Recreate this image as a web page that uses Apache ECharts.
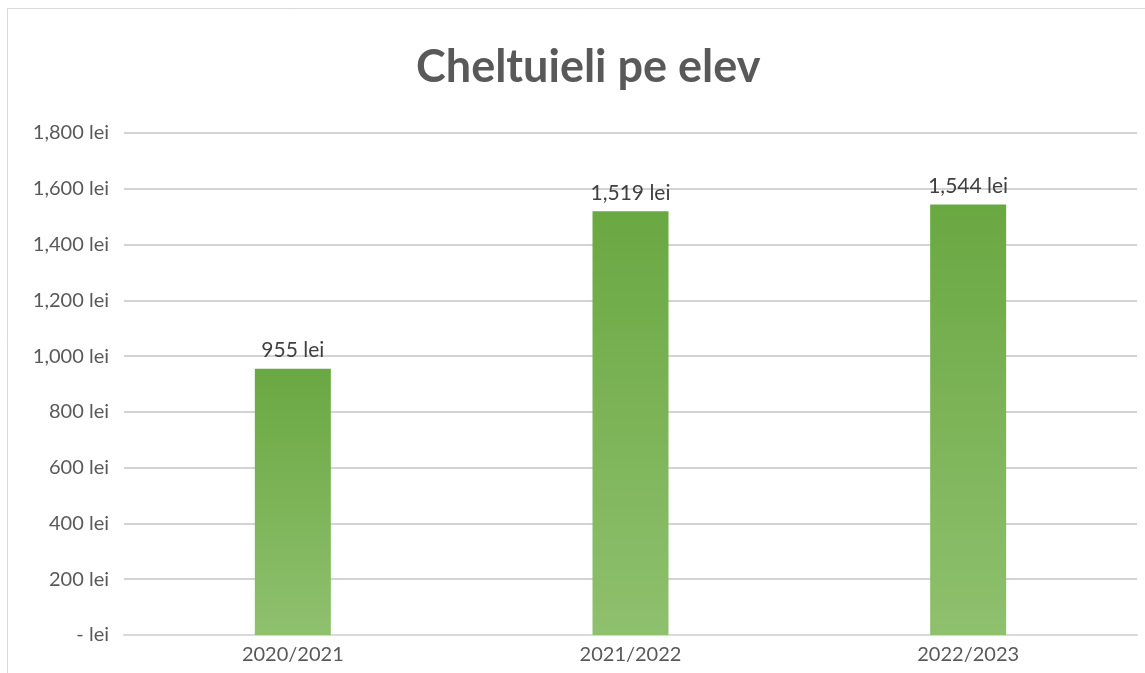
<!DOCTYPE html>
<html><head><meta charset="utf-8">
<script src="https://cdn.jsdelivr.net/npm/echarts@6/dist/echarts.min.js"></script>
<style>html,body{margin:0;padding:0;background:#fff;}#c{width:1145px;height:673px;}</style>
</head><body><div id="c"></div>
<script>
const categories = ['2020/2021', '2021/2022', '2022/2023'];
const values = [955, 1519, 1544];
const yTicks = [0, 200, 400, 600, 800, 1000, 1200, 1400, 1600, 1800];

function fmt(v) {
  if (v === 0) return '- lei';
  return v.toLocaleString('en-US') + ' lei';
}

const chart = echarts.init(document.getElementById('c'));
chart.setOption({
  animation: false,
  backgroundColor: '#fff',
  title: {
    text: 'Cheltuieli pe elev',
    left: 411, top: 40,
    textStyle: { fontFamily: 'Lato', fontWeight: 'bold', fontSize: 45, color: '#595959' }
  },
  graphic: [{
    type: 'rect', shape: { x: 7.5, y: 8.5, width: 1200, height: 700 },
    style: { fill: 'none', stroke: '#d9d9d9', lineWidth: 1 }, silent: true, z: -1
  }],
  grid: { left: 124, right: 8, top: 133, bottom: 38, containLabel: false },
  xAxis: {
    type: 'category', data: categories,
    axisLine: { lineStyle: { color: '#d9d9d9', width: 2 } },
    axisTick: { show: false },
    axisLabel: { fontFamily: 'Lato', fontSize: 20, color: '#595959', margin: 10 }
  },
  yAxis: {
    type: 'value', min: yTicks[0], max: yTicks[yTicks.length - 1], interval: 200,
    axisLine: { show: false }, axisTick: { show: false },
    splitLine: { lineStyle: { color: '#c4c4c4', width: 1.5 } },
    axisLabel: { fontFamily: 'Lato', fontSize: 20, color: '#595959', margin: 15, formatter: fmt }
  },
  series: [{
    type: 'bar', data: values, barWidth: 76,
    itemStyle: {
      color: new echarts.graphic.LinearGradient(0, 0, 0, 1, [
        { offset: 0, color: '#6aa842' },
        { offset: 1, color: '#8fc06e' }
      ])
    },
    label: {
      show: true, position: 'top', distance: 8,
      fontFamily: 'Lato', fontSize: 21, color: '#404040',
      formatter: p => fmt(p.value)
    }
  }]
});
</script></body></html>
